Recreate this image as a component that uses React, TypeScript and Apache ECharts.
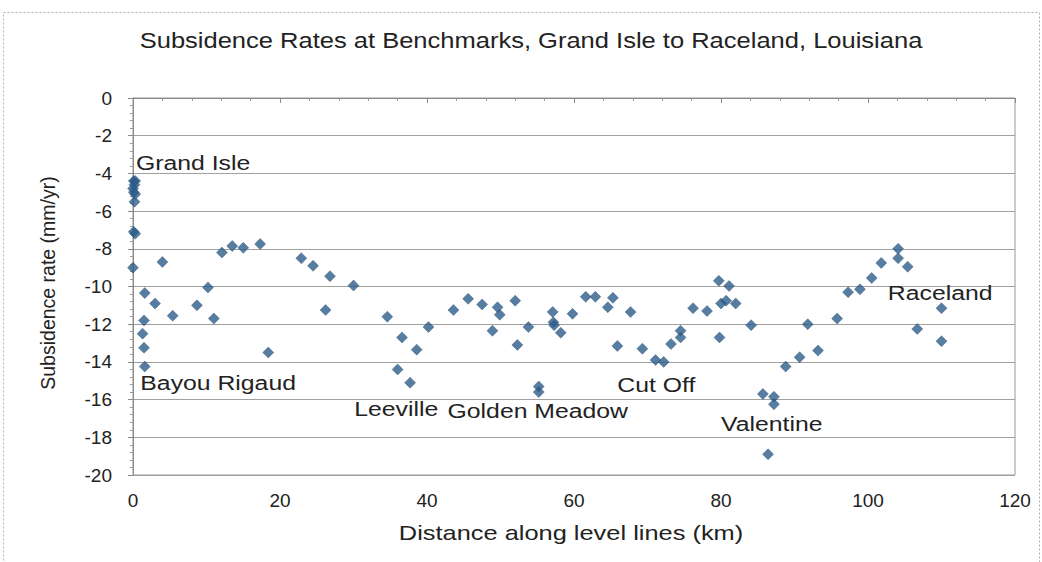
import React, { useEffect, useRef } from "react";
import * as echarts from "echarts";

const titleText = "Subsidence Rates at Benchmarks, Grand Isle to Raceland, Louisiana";
const xAxisName = "Distance along level lines (km)";
const yAxisName = "Subsidence rate (mm/yr)";

const distanceKm = [
  0.1, 0.3, 0.2, 0.0, 0.1, 0.3, 0.2, 0.1, 0.3, 0.0,
  1.6, 1.5, 1.3, 1.5, 1.6,
  3.0, 4.0, 5.4, 8.7, 10.2, 11.0, 12.1, 13.5, 15.0, 17.3,
  18.4, 22.9, 24.5, 26.2, 26.8, 30.0, 34.6, 36.0, 36.6, 37.7,
  38.6, 40.2, 43.6, 45.6, 47.5, 48.9, 49.6, 49.9, 52.0, 52.3,
  53.8, 55.2, 55.2, 57.1, 57.2, 57.3, 58.2, 59.8, 61.6, 62.9,
  64.6, 65.3, 65.9, 67.7, 69.3, 71.1, 72.2, 73.2, 74.5, 74.5,
  76.2, 78.1, 79.7, 79.8, 80.0, 80.7, 81.1, 82.0, 84.1, 85.7,
  86.4, 87.2, 87.2, 88.8, 90.7, 91.8, 93.2, 95.8, 97.3, 98.9,
  100.5, 101.8, 104.1, 104.1, 105.4, 106.7, 110.0, 110.0,
];

const subsidenceRate = [
  -4.4, -4.4, -4.6, -4.8, -5.0, -5.1, -5.5, -7.1, -7.2, -9.0,
  -10.35, -11.8, -12.5, -13.25, -14.25,
  -10.9, -8.7, -11.55, -11.0, -10.05, -11.7, -8.2, -7.85, -7.95, -7.75,
  -13.5, -8.5, -8.9, -11.25, -9.45, -9.95, -11.6, -14.4, -12.7, -15.1,
  -13.35, -12.15, -11.25, -10.65, -10.95, -12.35, -11.1, -11.5, -10.75, -13.1,
  -12.15, -15.3, -15.6, -11.35, -11.9, -12.05, -12.45, -11.45, -10.55, -10.55,
  -11.1, -10.6, -13.15, -11.35, -13.3, -13.9, -14.0, -13.05, -12.35, -12.7,
  -11.15, -11.3, -9.7, -12.7, -10.9, -10.75, -9.97, -10.9, -12.05, -15.7,
  -18.9, -15.85, -16.25, -14.25, -13.75, -12.0, -13.4, -11.7, -10.3, -10.15,
  -9.55, -8.75, -8.0, -8.5, -8.95, -12.25, -11.15, -12.9,
];

const placeNames = ["Grand Isle", "Bayou Rigaud", "Leeville", "Golden Meadow", "Cut Off", "Valentine", "Raceland"];
const placeX = [0.4, 1.0, 30.1, 42.8, 65.9, 80.0, 102.7];
const placeY = [-3.45, -15.1, -16.5, -16.6, -15.2, -17.3, -10.35];

const FONT = "'Liberation Sans', Arial, sans-serif";

export default function App() {
  const ref = useRef<HTMLDivElement>(null);
  useEffect(() => {
    if (!ref.current) return;
    const chart = echarts.init(ref.current, undefined, { renderer: "svg" });
    const points = distanceKm.map((d, i) => [d, subsidenceRate[i]]);
    chart.setOption({
      animation: false,
      backgroundColor: "#ffffff",
      textStyle: { fontFamily: FONT },
      grid: {
        left: 133,
        top: 98,
        right: 27,
        bottom: 87,
        show: true,
        borderColor: "#9a9a9a",
        borderWidth: 1,
      },
      xAxis: {
        type: "value",
        min: 0,
        max: 120,
        interval: 20,
        axisLine: { show: true, lineStyle: { color: "#888", width: 1 } },
        axisTick: { show: true, length: 5, lineStyle: { color: "#888" } },
        minorTick: { show: true, splitNumber: 5, length: 3, lineStyle: { color: "#999" } },
        axisLabel: { fontSize: 19, color: "#222", margin: 16, fontFamily: FONT },
        splitLine: { show: false },
      },
      yAxis: {
        type: "value",
        min: -20,
        max: 0,
        interval: 2,
        axisLine: { show: true, onZero: false, lineStyle: { color: "#888", width: 1 } },
        axisTick: { show: true, length: 5, lineStyle: { color: "#888" } },
        minorTick: { show: true, splitNumber: 5, length: 3, lineStyle: { color: "#999" } },
        axisLabel: { fontSize: 19, color: "#222", margin: 21, fontFamily: FONT },
        splitLine: { show: true, lineStyle: { color: "#a0a0a0", width: 1 } },
      },
      series: [
        {
          type: "scatter",
          data: points,
          symbol: "diamond",
          symbolSize: 11,
          itemStyle: { color: "#2d5d8a", borderColor: "#274f78", borderWidth: 0.5 },
          z: 3,
        },
      ],
    });

    const placeLabels = placeNames.map((n, i) => {
      const p = chart.convertToPixel({ gridIndex: 0 }, [placeX[i], placeY[i]]) as number[];
      return {
        type: "text",
        x: p[0],
        y: p[1],
        scaleX: 1.18,
        z: 10,
        silent: true,
        style: {
          text: n,
          fill: "#222",
          font: `21px ${FONT}`,
          textAlign: "left",
          textVerticalAlign: "middle",
        },
      };
    });

    chart.setOption({
      graphic: [
        {
          type: "rect",
          shape: { x: 3.5, y: 12.5, width: 1036, height: 560 },
          style: { fill: "none", stroke: "#b0b0b0", lineWidth: 1, lineDash: [2, 2] },
          silent: true,
        },
        {
          type: "text",
          x: 531,
          y: 40,
          scaleX: 1.16,
          style: {
            text: titleText,
            fill: "#222",
            font: `22px ${FONT}`,
            textAlign: "center",
            textVerticalAlign: "middle",
          },
        },
        {
          type: "text",
          x: 571,
          y: 533,
          scaleX: 1.21,
          style: {
            text: xAxisName,
            fill: "#222",
            font: `21px ${FONT}`,
            textAlign: "center",
            textVerticalAlign: "middle",
          },
        },
        {
          type: "text",
          x: 48,
          y: 283,
          rotation: Math.PI / 2,
          style: {
            text: yAxisName,
            fill: "#222",
            font: `19.5px ${FONT}`,
            textAlign: "center",
            textVerticalAlign: "middle",
          },
        },
        ...placeLabels,
      ],
    });
    return () => chart.dispose();
  }, []);
  return (
    <div
      ref={ref}
      style={{ position: "fixed", left: 0, top: 0, width: 1042, height: 562, background: "#fff" }}
    />
  );
}
